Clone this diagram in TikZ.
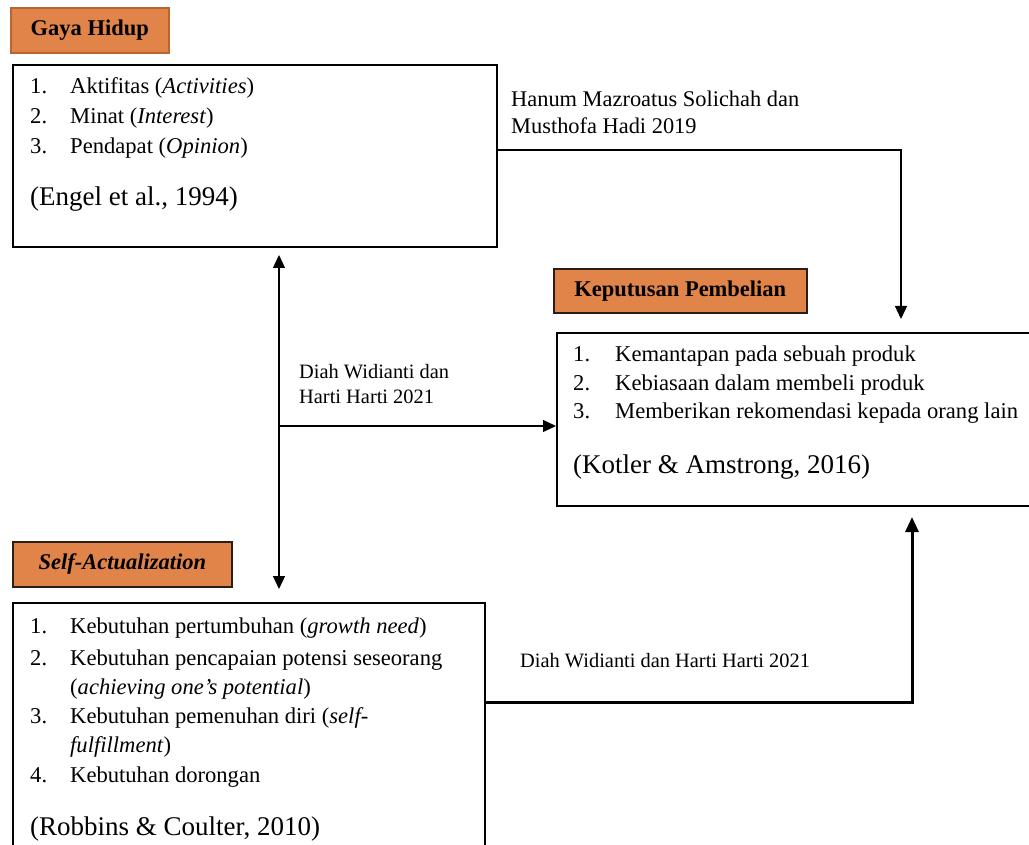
\documentclass[tikz,border=0pt]{standalone}
\usepackage{fontspec}
\setmainfont{Liberation Serif}
\usetikzlibrary{arrows.meta}
\definecolor{orng}{HTML}{E0844A}
\definecolor{orbd}{HTML}{B8652F}
\definecolor{dkbd}{HTML}{2A1E16}
\tikzset{
  lbl/.style={draw=dkbd, line width=1.6pt, fill=orng, anchor=north west, inner sep=0pt},
  lbltxt/.style={inner sep=0pt, font=\fontsize{22.5}{26}\selectfont\bfseries},
  box/.style={draw=black, line width=2pt, anchor=north west, inner sep=0pt},
  itm/.style={anchor=base west, inner sep=0pt, font=\fontsize{22.6}{26}\selectfont},
  cite/.style={anchor=base west, inner sep=0pt, font=\fontsize{27}{31}\selectfont},
  note/.style={anchor=base west, inner sep=0pt, font=\fontsize{20.4}{24}\selectfont},
  arr/.style={line width=1.3pt, -{Triangle[length=13pt,width=12pt]}},
  darr/.style={line width=1.3pt, {Triangle[length=13pt,width=12pt]}-{Triangle[length=13pt,width=12pt]}},
  tarr/.style={line width=3pt, -{Triangle[length=15pt,width=13pt]}},
}
\begin{document}
\begin{tikzpicture}[x=1pt,y=-1pt]
\clip (0,0) rectangle (1029,845);
\useasboundingbox (0,0) rectangle (1029,845);

% Gaya Hidup
\node[lbl, draw=orbd, minimum width=158pt, minimum height=45pt] (ghl) at (10,7) {};
\node[lbltxt] (ghlt) at (ghl.center) {Gaya Hidup};
\node[box, minimum width=484pt, minimum height=182pt] (gh) at (12,64) {};
\node[itm] (g1n) at (30,94) {1.};
\node[itm] (g1) at (70,94) {Aktifitas (\textit{Activities})};
\node[itm] (g2n) at (30,124) {2.};
\node[itm] (g2) at (70,124) {Minat (\textit{Interest})};
\node[itm] (g3n) at (30,154) {3.};
\node[itm] (g3) at (70,154) {Pendapat (\textit{Opinion})};
\node[cite] (gc) at (30,206) {(Engel et al., 1994)};

% Keputusan Pembelian
\node[lbl, minimum width=253pt, minimum height=44pt] (kpl) at (553,268) {};
\node[lbltxt] (kplt) at (kpl.center) {Keputusan Pembelian};
\node[box, minimum width=500pt, minimum height=173pt] (kp) at (556,332) {};
\node[itm] (k1n) at (573,362) {1.};
\node[itm] (k1) at (615,362) {Kemantapan pada sebuah produk};
\node[itm] (k2n) at (573,390) {2.};
\node[itm] (k2) at (615,390) {Kebiasaan dalam membeli produk};
\node[itm] (k3n) at (573,418) {3.};
\node[itm] (k3) at (615,418) {Memberikan rekomendasi kepada orang lain};
\node[cite] (kc) at (573,473) {(Kotler \& Amstrong, 2016)};

% Self-Actualization
\node[lbl, minimum width=219pt, minimum height=45pt] (sal) at (12,541) {};
\node[lbltxt, font=\fontsize{22.5}{26}\selectfont\bfseries\itshape] (salt) at (sal.center) {Self-Actualization};
\node[box, minimum width=472pt, minimum height=270pt] (sa) at (12,602) {};
\node[itm] (s1n) at (30,633) {1.};
\node[itm] (s1) at (70,633) {Kebutuhan pertumbuhan (\textit{growth need})};
\node[itm] (s2n) at (30,665) {2.};
\node[itm] (s2) at (70,665) {Kebutuhan pencapaian potensi seseorang};
\node[itm] (s2b) at (70,694) {(\textit{achieving one’s potential})};
\node[itm] (s3n) at (30,723) {3.};
\node[itm] (s3) at (70,723) {Kebutuhan pemenuhan diri (\textit{self-}};
\node[itm] (s3b) at (70,752) {\textit{fulfillment})};
\node[itm] (s4n) at (30,782) {4.};
\node[itm] (s4) at (70,782) {Kebutuhan dorongan};
\node[cite] (sc) at (30,835) {(Robbins \& Coulter, 2010)};

% notes
\node[note, font=\fontsize{22.4}{26}\selectfont] (n1a) at (511,107) {Hanum Mazroatus Solichah dan};
\node[note, font=\fontsize{22.4}{26}\selectfont] (n1b) at (511,134) {Musthofa Hadi 2019};
\node[note] (n2a) at (299,378) {Diah Widianti dan};
\node[note] (n2b) at (299,403) {Harti Harti 2021};
\node[note] (n3) at (520,667) {Diah Widianti dan Harti Harti 2021};

% connectors
\coordinate (c1s) at (496,150);
\coordinate (c1e) at (901,319);
\draw[arr] (c1s) -| (c1e);
\coordinate (vt) at (279,255);
\coordinate (vb) at (279,589);
\draw[darr] (vt) -- (vb);
\coordinate (hs) at (279,426);
\draw[arr] (hs) -- (hs -| kp.west);
\coordinate (c3s) at (484,702);
\coordinate (c3e) at (912,517);
\draw[tarr] (c3s) -| (c3e);
\end{tikzpicture}
\end{document}
